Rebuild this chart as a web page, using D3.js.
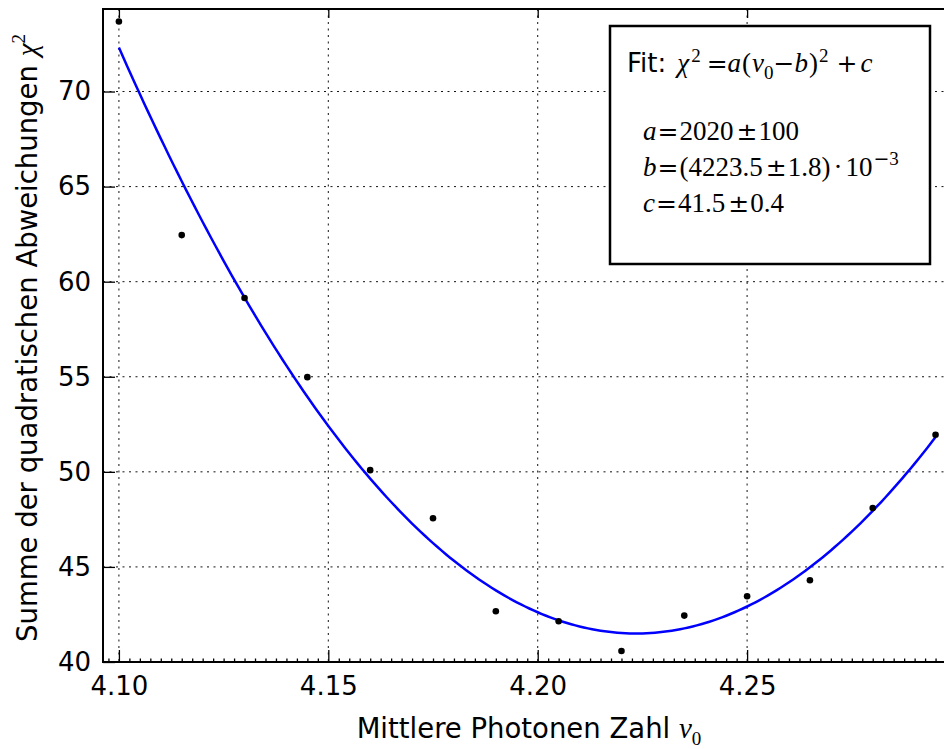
<!DOCTYPE html>
<html>
<head>
<meta charset="utf-8">
<script src="https://cdn.jsdelivr.net/npm/d3@7"></script>
<style>
  body { margin: 0; background: #fff; }
  svg { display: block; }
</style>
</head>
<body>
<svg id="chart" width="944" height="749"></svg>
<script>
// measured points: mean photon number vs. sum of squared deviations
var photonNumbers = [4.100, 4.115, 4.130, 4.145, 4.160, 4.175, 4.190, 4.205, 4.220, 4.235, 4.250, 4.265, 4.280, 4.295];
var chiSquared = [73.68, 62.45, 59.14, 54.98, 50.09, 47.56, 42.67, 42.14, 40.58, 42.44, 43.46, 44.30, 48.10, 51.95];

// fit parameters (as printed in the box)
var fitA = 2020;
var fitB = 4.2235;
var fitC = 41.5;

var xTicks = [4.10, 4.15, 4.20, 4.25];
var xTickLabels = ["4.10", "4.15", "4.20", "4.25"];
var yTicks = [40, 45, 50, 55, 60, 65, 70];

var svg = d3.select("#chart");

var plotLeft = 103, plotTop = 9, plotBottom = 662, plotRight = 956.5;

var x = d3.scaleLinear().domain([4.0962, 4.30]).range([plotLeft, plotRight]);
var y = d3.scaleLinear().domain([40, 74.34]).range([plotBottom, plotTop]);

svg.append("rect").attr("width", 944).attr("height", 749).attr("fill", "#fff");

// grid
var grid = svg.append("g").attr("class", "grid");
grid.selectAll("line.vx")
  .data(xTicks)
  .enter().append("line")
  .attr("class", "vx")
  .attr("x1", function(d) { return x(d); })
  .attr("x2", function(d) { return x(d); })
  .attr("y1", plotTop)
  .attr("y2", plotBottom)
  .attr("stroke", "#111")
  .attr("stroke-width", 1)
  .attr("stroke-dasharray", "2,4.5");
grid.selectAll("line.hy")
  .data(yTicks)
  .enter().append("line")
  .attr("class", "hy")
  .attr("x1", plotLeft)
  .attr("x2", plotRight)
  .attr("y1", function(d) { return y(d); })
  .attr("y2", function(d) { return y(d); })
  .attr("stroke", "#111")
  .attr("stroke-width", 1)
  .attr("stroke-dasharray", "2,4.5");

// fit curve
var curveX = d3.range(photonNumbers[0], photonNumbers[photonNumbers.length - 1] + 0.0005, 0.001);
var line = d3.line()
  .x(function(d) { return x(d); })
  .y(function(d) { return y(fitA * (d - fitB) * (d - fitB) + fitC); });
svg.append("path")
  .datum(curveX)
  .attr("d", line)
  .attr("fill", "none")
  .attr("stroke", "#0000ff")
  .attr("stroke-width", 2.5);

// data points
svg.selectAll("circle.pt")
  .data(photonNumbers)
  .enter().append("circle")
  .attr("class", "pt")
  .attr("cx", function(d) { return x(d); })
  .attr("cy", function(d, i) { return y(chiSquared[i]); })
  .attr("r", 3.3)
  .attr("fill", "#000");

// axes (ticks point inward)
function styleAxis(g) {
  g.select(".domain").remove();
  g.selectAll(".tick line").attr("stroke", "#000").attr("stroke-width", 1.3);
  g.selectAll(".tick text")
    .attr("fill", "#000")
    .style("font-family", "DejaVu Sans")
    .style("font-size", "26px");
}

var minorTicks = d3.range(4.0975, 4.3001, 0.0025).filter(function(v) {
  return Math.abs(v * 20 - Math.round(v * 20)) > 1e-6;
});

svg.append("g")
  .attr("transform", "translate(0," + plotBottom + ")")
  .call(d3.axisBottom(x).tickValues(minorTicks).tickSize(-3.5).tickFormat(""))
  .call(styleAxis);

svg.append("g")
  .attr("transform", "translate(0," + plotBottom + ")")
  .call(d3.axisBottom(x).tickValues(xTicks).tickSize(-12).tickPadding(15)
    .tickFormat(function(d, i) { return xTickLabels[i]; }))
  .call(styleAxis);

svg.append("g")
  .attr("transform", "translate(0," + plotTop + ")")
  .call(d3.axisTop(x).tickValues(xTicks).tickSize(-9).tickFormat(""))
  .call(styleAxis);

svg.append("g")
  .attr("transform", "translate(" + plotLeft + ",0)")
  .call(d3.axisLeft(y).tickValues(yTicks).tickSize(-12).tickPadding(12))
  .call(styleAxis);

// spines
svg.append("rect")
  .attr("x", plotLeft).attr("y", plotTop)
  .attr("width", plotRight - plotLeft).attr("height", plotBottom - plotTop)
  .attr("fill", "none")
  .attr("stroke", "#000")
  .attr("stroke-width", 2);

// axis labels
var xLabel = svg.append("text")
  .attr("x", 529)
  .attr("y", 738)
  .attr("text-anchor", "middle")
  .style("font-family", "DejaVu Sans")
  .style("font-size", "27.5px");
xLabel.append("tspan").text("Mittlere Photonen Zahl ");
xLabel.append("tspan").style("font-family", "Liberation Serif").style("font-style", "italic").style("font-size", "29px").text("\u03bd");
xLabel.append("tspan").attr("dy", 7).style("font-family", "Liberation Serif").style("font-size", "19px").text("0");

var yLabel = svg.append("text")
  .attr("transform", "translate(37,338) rotate(-90)")
  .attr("text-anchor", "middle")
  .style("font-family", "DejaVu Sans")
  .style("font-size", "27.5px");
yLabel.append("tspan").text("Summe der quadratischen Abweichungen ");
yLabel.append("tspan").style("font-family", "Liberation Serif").style("font-style", "italic").style("font-size", "29px").text("\u03c7");
yLabel.append("tspan").attr("dy", -12).style("font-family", "Liberation Serif").style("font-size", "19px").text("2");

// fit box
svg.append("rect")
  .attr("x", 610).attr("y", 26)
  .attr("width", 320).attr("height", 238)
  .attr("fill", "#fff")
  .attr("stroke", "#000")
  .attr("stroke-width", 2.5);

// each row flows as one text; pieces: [text, kind, dx, dy]
// kinds: sans, it (italic), rm (upright), op (operator), sup (small)
var fitRows = [
  { x: 627, y: 72, pieces: [["Fit:", "sans", 0, 0], ["\u03c7", "it", 11, 0], ["2", "sup", 2, -10],
      ["=", "op", 6, 10], ["a", "it", 0, 0], ["(", "rm", 1, 0], ["\u03bd", "it", 1, 0], ["0", "sup", 0, 7],
      ["\u2212", "op", 0, -7], ["b", "it", 0, 0], [")", "rm", 1, 0], ["2", "sup", 1, -10],
      ["+", "op", 8, 10], ["c", "it", 3, 0]] },
  { x: 643, y: 140, pieces: [["a", "it", 0, 0], ["=", "op", 1, 0], ["2020", "rm", 1, 0],
      ["\u00b1", "op", 3, 0], ["100", "rm", 1, 0]] },
  { x: 643, y: 175.5, pieces: [["b", "it", 0, 0], ["=", "op", 1, 0], ["(", "rm", 1, 0], ["4223.5", "rm", 0, 0],
      ["\u00b1", "op", 3, 0], ["1.8", "rm", 1, 0], [")", "rm", 0, 0], ["\u00b7", "rm", 3, 0],
      ["10", "rm", 3, 0], ["\u2212", "supop", 1, -11], ["3", "sup", 0, 0]] },
  { x: 643, y: 211.5, pieces: [["c", "it", 0, 0], ["=", "op", 1, 0], ["41.5", "rm", 1, 0],
      ["\u00b1", "op", 3, 0], ["0.4", "rm", 1, 0]] }
];

var rowText = svg.selectAll("text.fit")
  .data(fitRows)
  .enter().append("text")
  .attr("class", "fit")
  .attr("x", function(d) { return d.x; })
  .attr("y", function(d) { return d.y; });

rowText.selectAll("tspan")
  .data(function(d) { return d.pieces; })
  .enter().append("tspan")
  .attr("dx", function(p) { return p[2]; })
  .attr("dy", function(p) { return p[3]; })
  .style("font-family", function(p) {
    if (p[1] === "sans") return "DejaVu Sans";
    if (p[1] === "op" || p[1] === "supop") return "DejaVu Serif";
    return "Liberation Serif";
  })
  .style("font-style", function(p) { return p[1] === "it" ? "italic" : "normal"; })
  .style("font-size", function(p) {
    if (p[1] === "sup" || p[1] === "supop") return "19px";
    if (p[1] === "sans") return "26px";
    if (p[1] === "op") return "25px";
    return "27px";
  })
  .text(function(p) { return p[0]; });
</script>
</body>
</html>
